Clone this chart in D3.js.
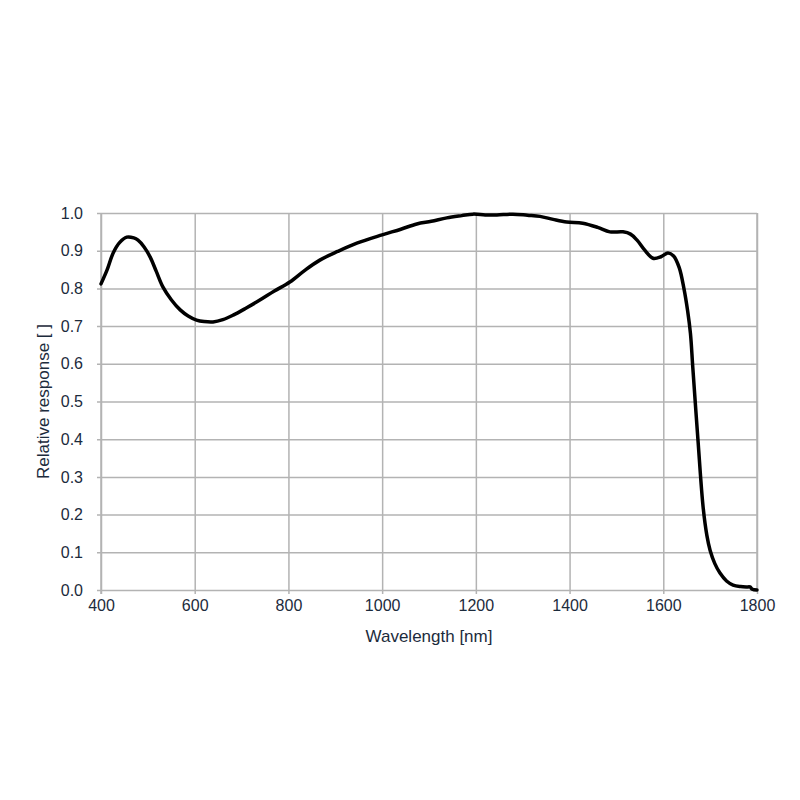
<!DOCTYPE html>
<html>
<head>
<meta charset="utf-8">
<script src="https://cdn.jsdelivr.net/npm/d3@7"></script>
<style>
  body { margin: 0; background: #fff; }
  text { font-family: "Liberation Sans", Arial, sans-serif; }
</style>
</head>
<body>
<div id="chart"></div>
<script>
// Spectral response curve
const wavelengths = [400, 413, 426, 440, 455, 470, 479, 492, 505, 518, 532, 550, 569, 586, 604, 620, 639, 660, 682, 710, 739, 770, 803, 835, 867, 905, 946, 1000, 1040, 1074, 1105, 1138, 1170, 1194, 1220, 1245, 1279, 1310, 1337, 1365, 1394, 1428, 1460, 1486, 1514, 1530, 1544, 1560, 1578, 1595, 1610, 1622, 1634, 1644, 1652, 1658, 1663, 1674, 1685, 1693, 1700, 1710, 1721, 1735, 1749, 1765, 1778, 1785, 1790, 1800];
const response = [0.812, 0.849, 0.894, 0.922, 0.936, 0.934, 0.928, 0.910, 0.883, 0.845, 0.804, 0.770, 0.743, 0.727, 0.716, 0.712, 0.711, 0.717, 0.729, 0.748, 0.769, 0.793, 0.817, 0.848, 0.875, 0.898, 0.920, 0.942, 0.957, 0.971, 0.978, 0.987, 0.993, 0.997, 0.995, 0.995, 0.997, 0.994, 0.991, 0.983, 0.976, 0.973, 0.962, 0.950, 0.950, 0.944, 0.928, 0.902, 0.880, 0.884, 0.894, 0.886, 0.855, 0.800, 0.740, 0.680, 0.590, 0.398, 0.220, 0.145, 0.105, 0.070, 0.045, 0.024, 0.013, 0.009, 0.008, 0.008, 0.002, 0.0];

const xTicks = [400, 600, 800, 1000, 1200, 1400, 1600, 1800];
const yTicks = [0, 0.1, 0.2, 0.3, 0.4, 0.5, 0.6, 0.7, 0.8, 0.9, 1.0];

const data = wavelengths.map((w, i) => ({ w: w, v: response[i] }));

const margin = { top: 213, right: 43, bottom: 210, left: 101 };
const width = 800 - margin.left - margin.right;
const height = 800 - margin.top - margin.bottom;

const svg = d3.select("#chart")
    .append("svg")
    .attr("width", 800)
    .attr("height", 800)
    .append("g")
    .attr("transform", `translate(${margin.left}, ${margin.top})`);

const xScale = d3.scaleLinear().domain([400, 1800]).range([0, width]);
const yScale = d3.scaleLinear().domain([0, 1]).range([height, 0]);

const gridColor = "#b3b3b3";
const textColor = "#1c2b3c";

// Vertical grid lines with tick stubs below the plot
svg.append("g")
    .attr("transform", `translate(0, ${height})`)
    .call(d3.axisBottom(xScale).tickValues(xTicks).tickFormat(d3.format("d")))
    .call(g => g.select(".domain").remove())
    .call(g => g.selectAll(".tick line")
        .attr("y1", -height).attr("y2", 4)
        .attr("stroke", gridColor).attr("stroke-width", 1.5))
    .call(g => g.selectAll(".tick text")
        .attr("y", 10).attr("dy", "0.71em")
        .attr("fill", textColor).style("font-size", "16px"));

// Horizontal grid lines
svg.append("g")
    .call(d3.axisLeft(yScale).tickValues(yTicks).tickFormat(d3.format(".1f")))
    .call(g => g.select(".domain").remove())
    .call(g => g.selectAll(".tick line")
        .attr("x1", -4).attr("x2", width)
        .attr("stroke", gridColor).attr("stroke-width", 1.5))
    .call(g => g.selectAll(".tick text")
        .attr("x", -18)
        .attr("fill", textColor).style("font-size", "16px"));

// Plot border (left axis line and right edge)
svg.append("line")
    .attr("x1", 0).attr("x2", 0).attr("y1", 0).attr("y2", height + 4)
    .attr("stroke", gridColor).attr("stroke-width", 1.5);
svg.append("line")
    .attr("x1", width).attr("x2", width).attr("y1", 0).attr("y2", height)
    .attr("stroke", gridColor).attr("stroke-width", 1.5);

// Curve
const line = d3.line()
    .x(d => xScale(d.w))
    .y(d => yScale(d.v))
    .curve(d3.curveCatmullRom.alpha(0.5));

svg.append("path")
    .datum(data)
    .attr("fill", "none")
    .attr("stroke", "#000")
    .attr("stroke-width", 3.5)
    .attr("stroke-linejoin", "round")
    .attr("stroke-linecap", "round")
    .attr("d", line);

// Axis titles
svg.append("text")
    .attr("x", xScale(1100))
    .attr("y", height + 52)
    .attr("text-anchor", "middle")
    .attr("fill", textColor)
    .style("font-size", "17px")
    .text("Wavelength [nm]");

svg.append("text")
    .attr("transform", `translate(${-52}, ${yScale(0.5)}) rotate(-90)`)
    .attr("text-anchor", "middle")
    .attr("fill", textColor)
    .style("font-size", "17px")
    .text("Relative response [ ]");
</script>
</body>
</html>
